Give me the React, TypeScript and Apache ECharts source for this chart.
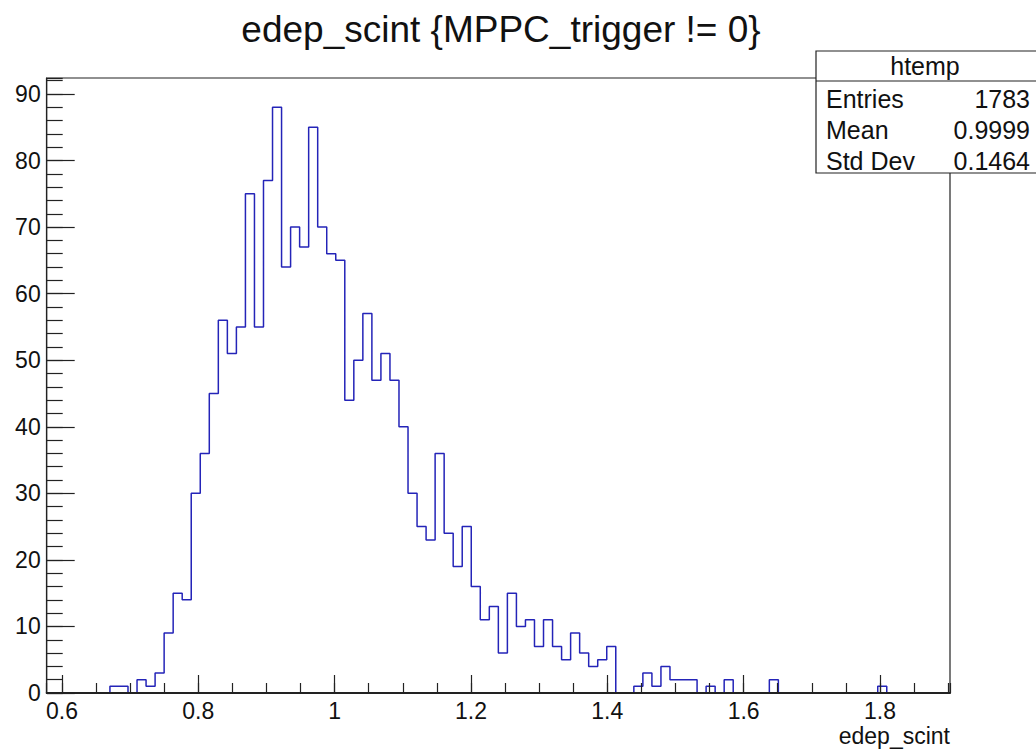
import React, { useEffect, useRef } from "react";
import * as echarts from "echarts";

// ---- data ----
const chartTitle = "edep_scint {MPPC_trigger != 0}";
const xAxisTitle = "edep_scint";
const xMin = 0.5776;
const xMax = 1.9027;
const yMax = 92.4;
const counts: number[] = [
  0, 0, 0, 0, 0, 0, 0, 1, 1, 0,
  2, 1, 3, 9, 15, 14, 30, 36, 45, 56,
  51, 55, 75, 55, 77, 88, 64, 70, 67, 85,
  70, 66, 65, 44, 50, 57, 47, 51, 47, 40,
  30, 25, 23, 36, 24, 19, 25, 16, 11, 13,
  6, 15, 10, 11, 7, 11, 7, 5, 9, 6,
  4, 5, 7, 0, 0, 1, 3, 1, 4, 2,
  2, 2, 0, 1, 0, 2, 0, 0, 0, 0,
  2, 0, 0, 0, 0, 0, 0, 0, 0, 0,
  0, 0, 1, 0, 0, 0, 0, 0, 0, 0,
];
const statsName = "htemp";
const statsLabels = ["Entries", "Mean", "Std Dev"];
const statsValues = ["1783", "0.9999", "0.1464"];

const FONT = "'Liberation Sans', Arial, Helvetica, sans-serif";

export default function App() {
  const ref = useRef<HTMLDivElement>(null);
  useEffect(() => {
    if (!ref.current) return;
    const chart = echarts.init(ref.current, undefined, { renderer: "svg" });
    const w = (xMax - xMin) / counts.length;
    const pts: number[][] = [[xMin, 0]];
    counts.forEach((c, i) => {
      pts.push([xMin + i * w, c]);
      pts.push([xMin + (i + 1) * w, c]);
    });
    pts.push([xMax, 0]);

    const gridL = 46.7, gridT = 78, gridR = 950, gridB = 693;
    const rowY = [99, 130, 161];

    const option: any = {
      animation: false,
      backgroundColor: "#fff",
      grid: {
        left: gridL,
        top: gridT,
        width: gridR - gridL,
        height: gridB - gridT,
        show: true,
        borderColor: "#222",
        borderWidth: 1.2,
        backgroundColor: "transparent",
        containLabel: false,
      },
      xAxis: [
        {
          type: "value",
          min: xMin,
          max: xMax,
          splitNumber: 6,
          position: "bottom",
          z: 10,
          axisLine: { show: true, lineStyle: { color: "#222", width: 2 } },
          axisTick: { show: true, inside: true, length: 18, lineStyle: { color: "#222", width: 1.2 } },
          splitLine: { show: false },
          axisLabel: {
            show: true,
            showMinLabel: false,
            showMaxLabel: false,
            margin: 6,
            color: "#111",
            fontSize: 23,
            fontFamily: FONT,
            formatter: (v: number) => {
              const r = Math.round(v * 5) / 5;
              return Math.abs(v - r) < 1e-6 ? String(parseFloat(r.toFixed(1))) : "";
            },
          },
        },
        {
          type: "value",
          min: xMin,
          max: xMax,
          splitNumber: 26,
          position: "bottom",
          z: 10,
          axisLine: { show: false },
          axisTick: { show: true, inside: true, length: 10, lineStyle: { color: "#222", width: 1.2 } },
          splitLine: { show: false },
          axisLabel: { show: false },
        },
      ],
      yAxis: [
        {
          type: "value",
          min: 0,
          max: yMax,
          interval: 10,
          position: "left",
          z: 10,
          axisLine: { show: true, lineStyle: { color: "#222", width: 1.2 } },
          axisTick: { show: true, inside: true, length: 28, lineStyle: { color: "#222", width: 1.2 } },
          splitLine: { show: false },
          axisLabel: {
            show: true,
            showMaxLabel: false,
            margin: 6,
            color: "#111",
            fontSize: 23,
            fontFamily: FONT,
            formatter: (v: number) => (Math.abs(v % 10) < 1e-6 ? String(v) : ""),
          },
        },
        {
          type: "value",
          min: 0,
          max: yMax,
          interval: 2,
          position: "left",
          z: 10,
          axisLine: { show: false },
          axisTick: { show: true, inside: true, length: 16, lineStyle: { color: "#222", width: 1.2 } },
          splitLine: { show: false },
          axisLabel: { show: false },
        },
      ],
      series: [
        {
          type: "line",
          xAxisIndex: 0,
          yAxisIndex: 0,
          data: pts,
          showSymbol: false,
          symbol: "none",
          lineStyle: { color: "#2424b8", width: 1.5 },
          clip: true,
          z: 1,
        },
      ],
      graphic: [
        {
          type: "text",
          z: 100,
          style: {
            text: chartTitle,
            x: 501,
            y: 29,
            align: "center",
            verticalAlign: "middle",
            fontSize: 37,
            fontFamily: FONT,
            fill: "#111",
          },
        },
        {
          type: "text",
          z: 100,
          style: {
            text: xAxisTitle,
            x: 950,
            y: 736,
            align: "right",
            verticalAlign: "middle",
            fontSize: 23,
            fontFamily: FONT,
            fill: "#111",
          },
        },
        {
          type: "rect",
          z: 100,
          shape: { x: 816, y: 51, width: 230, height: 122 },
          style: { fill: "#fff", stroke: "#222", lineWidth: 1.2 },
        },
        {
          type: "line",
          z: 101,
          shape: { x1: 816, y1: 81, x2: 1040, y2: 81 },
          style: { stroke: "#222", lineWidth: 1.2 },
        },
        {
          type: "text",
          z: 101,
          style: {
            text: statsName,
            x: 925,
            y: 66,
            align: "center",
            verticalAlign: "middle",
            fontSize: 25,
            fontFamily: FONT,
            fill: "#111",
          },
        },
        ...statsLabels.map((l, i) => ({
          type: "text",
          z: 101,
          style: {
            text: l,
            x: 826,
            y: rowY[i],
            align: "left",
            verticalAlign: "middle",
            fontSize: 25,
            fontFamily: FONT,
            fill: "#111",
          },
        })),
        ...statsValues.map((v, i) => ({
          type: "text",
          z: 101,
          style: {
            text: v,
            x: 1030,
            y: rowY[i],
            align: "right",
            verticalAlign: "middle",
            fontSize: 25,
            fontFamily: FONT,
            fill: "#111",
          },
        })),
      ],
    };
    chart.setOption(option);
    return () => chart.dispose();
  }, []);
  return (
    <div
      ref={ref}
      style={{ position: "absolute", left: 0, top: 0, width: 1036, height: 751, background: "#fff" }}
    />
  );
}
